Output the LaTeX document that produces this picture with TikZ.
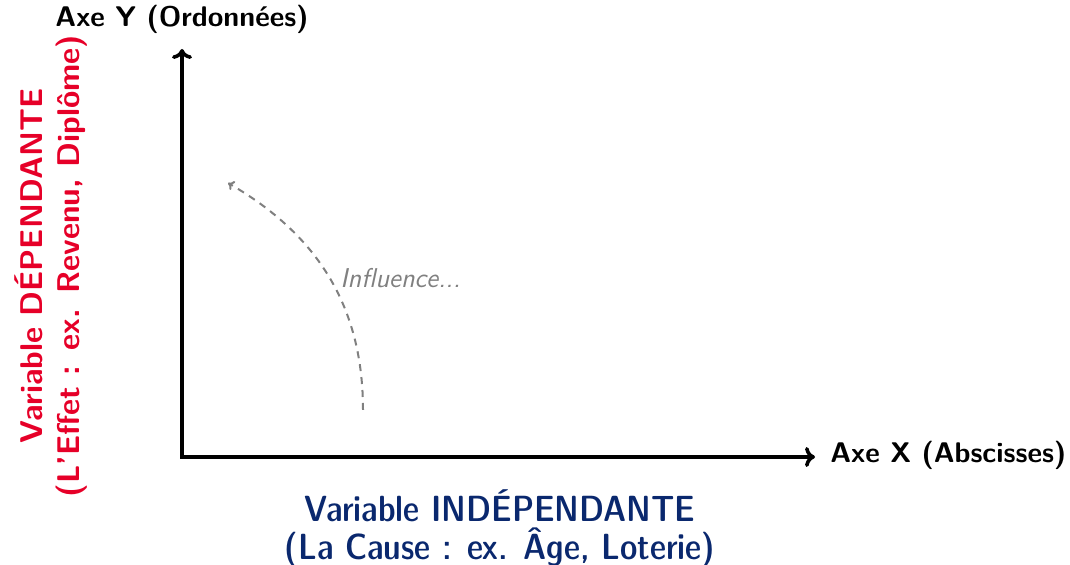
\documentclass[tikz,border=0pt]{standalone}
\usetikzlibrary{arrows.meta}
\definecolor{redv}{RGB}{230,0,40}
\definecolor{bluev}{RGB}{10,40,110}
\definecolor{grayv}{RGB}{128,128,128}
\begin{document}
\begin{tikzpicture}[x=0.5pt,y=0.5pt,
  axis/.style={line width=1.8pt,-{To[length=5pt,width=10pt]}},
  axlabel/.style={font=\fontsize{14.2}{17}\selectfont\sffamily\bfseries,inner sep=0pt},
  infl/.style={grayv,line width=1pt,dash pattern=on 3.5pt off 3pt,-{To[length=3pt,width=5pt]}}]
\useasboundingbox (0,0) rectangle (1070,565);
\coordinate (O) at (182,108);
\coordinate (Ytip) at (182,516);
\coordinate (Xtip) at (815,108);
\draw[axis] (O) -- (Ytip);
\draw[axis] ([xshift=-0.9pt]O) -- (Xtip);
\node[axlabel,anchor=base] (ylab) at (182,538) {Axe Y (Ordonnées)};
\node[axlabel,anchor=west] (xlab) at (830,110) {Axe X (Abscisses)};
\node[bluev,align=center,font=\fontsize{18.2}{19}\selectfont\sffamily\fontseries{sbc}\selectfont,inner sep=0pt] (indep) at (500,36)
  {Variable INDÉPENDANTE\\(La Cause : ex. Âge, Loterie)};
\node[redv,align=center,rotate=90,font=\fontsize{15.7}{18.5}\selectfont\sffamily\bfseries,inner sep=0pt] (dep) at (51,299)
  {Variable DÉPENDANTE\\(L'Effet : ex. Revenu, Diplôme)};
\coordinate (s) at (363,155);
\coordinate (e) at (228,382);
\draw[infl] (s) to[out=90,in=-30] (e);
\node[grayv,font=\fontsize{13.6}{16}\selectfont\sffamily\slshape,anchor=west,inner sep=0pt] (inf) at (340,287) {Influence...};
\end{tikzpicture}
\end{document}
